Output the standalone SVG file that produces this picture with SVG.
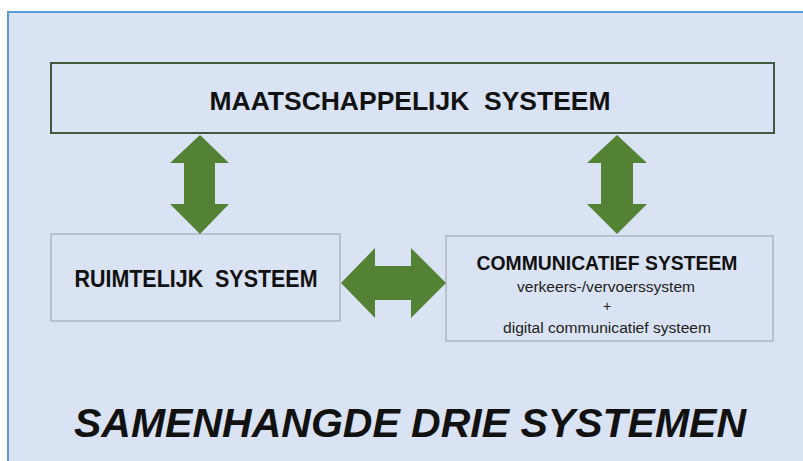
<svg xmlns="http://www.w3.org/2000/svg" width="803" height="461" viewBox="0 0 803 461">
<style>
.bold{font-family:"Liberation Sans",Arial,sans-serif;font-weight:bold;fill:#111;}
.reg{font-family:"Liberation Sans",Arial,sans-serif;fill:#222;}
.box{fill:none;stroke:#a3abb3;stroke-width:1.2;}
.arrow{fill:#548235;}
</style>
<rect x="0" y="0" width="803" height="461" fill="#ffffff"/>
<rect x="8" y="12" width="795" height="449" fill="#dae3f3"/>
<path d="M8,461 V12 H803" fill="none" stroke="#5b9bd5" stroke-width="2"/>
<g id="maatschappelijk">
<rect x="51" y="63" width="723" height="70" fill="none" stroke="#3f5a3f" stroke-width="2"/>
<text class="bold" x="410" y="110" font-size="25" text-anchor="middle" textLength="401" lengthAdjust="spacingAndGlyphs" xml:space="preserve">MAATSCHAPPELIJK  SYSTEEM</text>
</g>
<g id="ruimtelijk">
<rect class="box" x="51" y="234" width="289" height="87"/>
<text class="bold" x="196" y="287" font-size="23" text-anchor="middle" textLength="243" lengthAdjust="spacingAndGlyphs" xml:space="preserve">RUIMTELIJK  SYSTEEM</text>
</g>
<g id="communicatief">
<rect class="box" x="446" y="236" width="327" height="105"/>
<text class="bold" x="607" y="270" font-size="20" text-anchor="middle" textLength="261" lengthAdjust="spacingAndGlyphs">COMMUNICATIEF SYSTEEM</text>
<text class="reg" x="606" y="292" font-size="14" text-anchor="middle" textLength="178" lengthAdjust="spacingAndGlyphs">verkeers-/vervoerssystem</text>
<text class="reg" x="607" y="311" font-size="14" text-anchor="middle">+</text>
<text class="reg" x="607" y="333" font-size="14" text-anchor="middle" textLength="208" lengthAdjust="spacingAndGlyphs">digital communicatief systeem</text>
</g>
<g id="connectors">
<polygon class="arrow" points="200,135 229,163 215,163 215,204 229,204 200,234 170,204 184,204 184,163 170,163"/>
<polygon class="arrow" points="617,135 647,163 633,163 633,204 647,204 617,234 587,204 601,204 601,163 587,163"/>
<polygon class="arrow" points="341,283 375,248 375,266 411,266 411,248 446,283 411,318 411,300 375,300 375,318"/>
</g>
<text class="bold" x="410" y="437" font-size="41" font-style="italic" text-anchor="middle">SAMENHANGDE DRIE SYSTEMEN</text>
</svg>
